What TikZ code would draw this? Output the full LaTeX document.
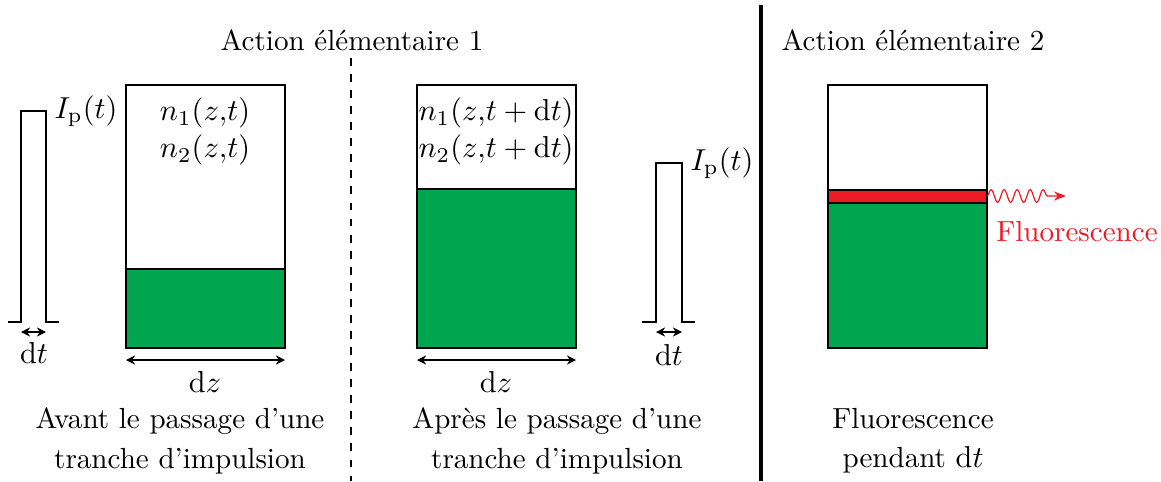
\documentclass[tikz,border=0pt]{standalone}
\usetikzlibrary{arrows.meta,decorations.pathmorphing}
\definecolor{vert}{RGB}{0,165,80}
\definecolor{rouge}{RGB}{237,28,36}
\tikzset{
  boxline/.style={line width=0.4pt},
  dimarrow/.style={line width=0.4pt,{Stealth[length=3pt,width=3pt]}-{Stealth[length=3pt,width=3pt]}},
  pulse/.style={line width=0.4pt},
  lbl/.style={inner sep=0pt,font=\fontsize{9.6}{11.5}\selectfont},
  caption/.style={inner sep=0pt,align=center,font=\fontsize{9.6}{11.5}\selectfont}
}
\begin{document}
\begin{tikzpicture}[x=0.33pt,y=-0.33pt]
\useasboundingbox (0,0) rectangle (1161,481);
% titles and separators
\node[lbl] (t1) at (352,40) {Action élémentaire 1};
\node[lbl] (t2) at (913,40) {Action élémentaire 2};
\coordinate (d1) at (351,58); \coordinate (d2) at (351,481);
\draw[dash pattern=on 2.6pt off 2.7pt,line width=0.35pt] (d1) -- (d2);
\coordinate (s1) at (761,5); \coordinate (s2) at (761,481);
\draw[line width=1.4pt] (s1) -- (s2);

% pulse 1
\coordinate (p1a) at (8,322); \coordinate (p1b) at (21,322); \coordinate (p1c) at (21,111);
\coordinate (p1d) at (46,111); \coordinate (p1e) at (46,322); \coordinate (p1f) at (59,322);
\draw[pulse] (p1a) -- (p1b) -- (p1c) -- (p1d) -- (p1e) -- (p1f);
\coordinate (a1l) at (21,332); \coordinate (a1r) at (46,332);
\draw[dimarrow] (a1l) -- (a1r);
\node[lbl] (dt1) at (34,353) {$\mathrm{d}t$};
\node[lbl] (ip1) at (86,111) {$I_{\mathrm{p}}(t)$};

% box 1
\coordinate (b1tl) at (126,85); \coordinate (b1br) at (285,348);
\fill[vert] (126,269) rectangle (b1br);
\draw[boxline] (126,269) -- (285,269);
\draw[boxline] (b1tl) rectangle (b1br);
\node[lbl] (n11) at (205,113) {$n_1(z{,}t)$};
\node[lbl] (n21) at (205,150) {$n_2(z{,}t)$};
\coordinate (z1l) at (126,360); \coordinate (z1r) at (285,360);
\draw[dimarrow] (z1l) -- (z1r);
\node[lbl] (dz1) at (205,382) {$\mathrm{d}z$};
\node[caption] (c1) at (180,441) {Avant le passage d'une\\[1.5pt]tranche d'impulsion};

% box 2
\coordinate (b2tl) at (417,85); \coordinate (b2br) at (576,348);
\fill[vert] (417,189) rectangle (b2br);
\draw[boxline] (417,189) -- (576,189);
\draw[boxline] (b2tl) rectangle (b2br);
\node[lbl] (n12) at (496,113) {$n_1(z{,}t+\mathrm{d}t)$};
\node[lbl] (n22) at (496,150) {$n_2(z{,}t+\mathrm{d}t)$};
\coordinate (z2l) at (417,360); \coordinate (z2r) at (576,360);
\draw[dimarrow] (z2l) -- (z2r);
\node[lbl] (dz2) at (496,382) {$\mathrm{d}z$};
\node[caption] (c2) at (557,441) {Après le passage d'une\\[1.5pt]tranche d'impulsion};

% pulse 2
\coordinate (p2a) at (642,322); \coordinate (p2b) at (656,322); \coordinate (p2c) at (656,163);
\coordinate (p2d) at (682,163); \coordinate (p2e) at (682,322); \coordinate (p2f) at (695,322);
\draw[pulse] (p2a) -- (p2b) -- (p2c) -- (p2d) -- (p2e) -- (p2f);
\coordinate (a2l) at (656,332); \coordinate (a2r) at (682,332);
\draw[dimarrow] (a2l) -- (a2r);
\node[lbl] (dt2) at (669,355) {$\mathrm{d}t$};
\node[lbl] (ip2) at (722,163) {$I_{\mathrm{p}}(t)$};

% box 3
\coordinate (b3tl) at (828,85); \coordinate (b3br) at (987,348);
\fill[vert] (828,203) rectangle (b3br);
\fill[rouge] (828,190) rectangle (987,203);
\draw[boxline] (828,190) -- (987,190);
\draw[boxline] (828,203) -- (987,203);
\draw[boxline] (b3tl) rectangle (b3br);
\coordinate (w1) at (987,196); \coordinate (w2) at (1066,196);
\draw[rouge,line width=0.4pt,-{Stealth[length=4pt,width=3pt]},
  decorate,decoration={snake,amplitude=2.1pt,segment length=4.3pt,post length=4.2pt}] (w1) -- (w2);
\node[lbl,text=rouge] (fl) at (1077,232) {Fluorescence};
\node[caption] (c3) at (913,441) {Fluorescence\\[1.5pt]pendant $\mathrm{d}t$};
\end{tikzpicture}
\end{document}
